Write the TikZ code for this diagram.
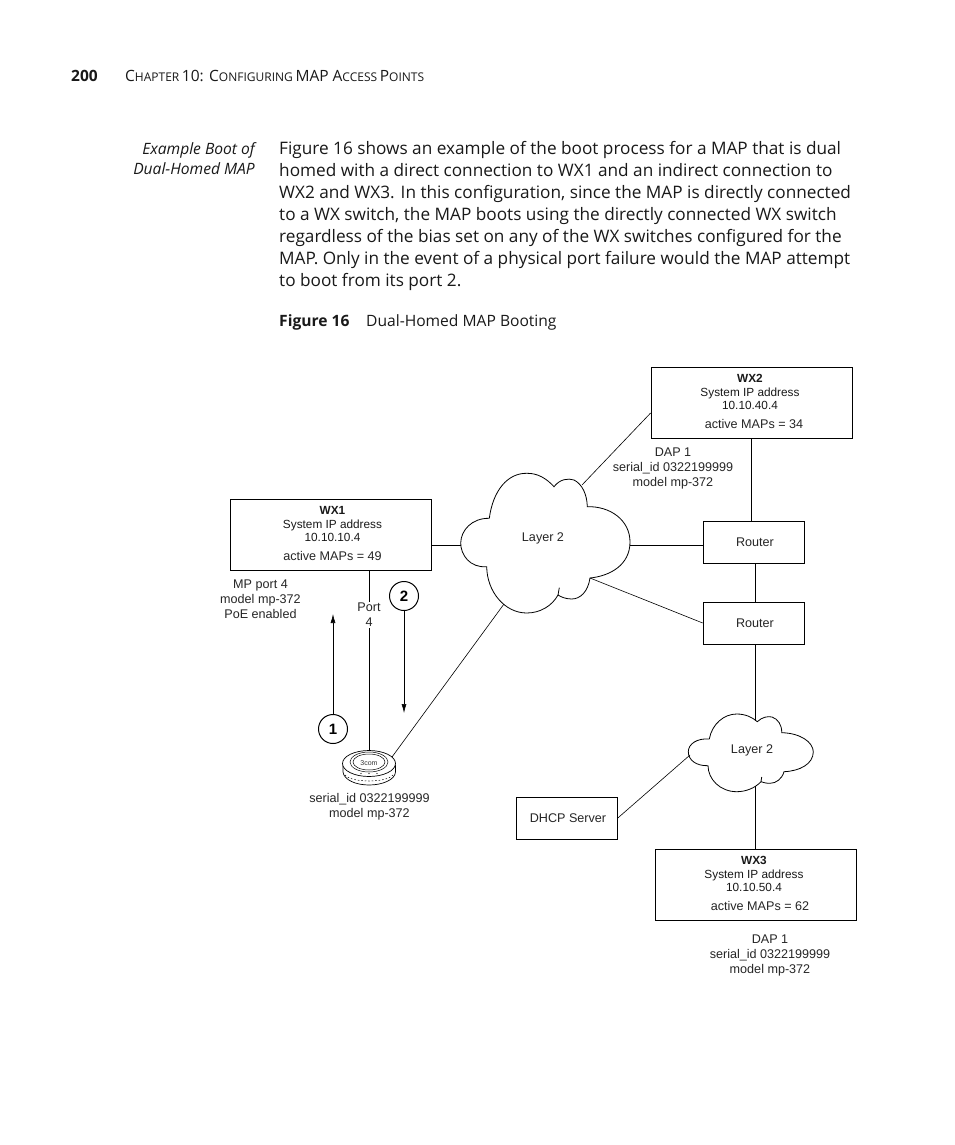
\documentclass[tikz,border=0pt]{standalone}
\usepackage{fontspec}
\usetikzlibrary{arrows.meta}
\setmainfont{Open Sans}
\newfontfamily\figfont{Liberation Sans}
\tikzset{
  devbox/.style={draw,line width=0.8pt,minimum width=201pt,minimum height=71pt,inner sep=0pt},
  smallbox/.style={draw,line width=0.6pt,minimum width=101pt,minimum height=42pt,inner sep=0pt},
  figtext/.style={inner sep=0pt,align=center,text=black!85,font=\figfont\fontsize{12.6}{15}\selectfont},
  boxtext/.style={inner sep=0pt,align=center,text=black!90,font=\figfont\fontsize{11.8}{13.5}\selectfont},
  conn/.style={line width=0.6pt},
  numcircle/.style={circle,draw,line width=1pt,minimum size=29pt,inner sep=0pt,font=\figfont\bfseries\fontsize{15}{15}\selectfont},
  pagetext/.style={inner sep=0pt,anchor=base west,text=black!90}
}
\newcommand{\capsc}[2]{{\fontsize{15.5}{18}\selectfont #1}{\fontsize{12}{18}\selectfont #2}}
\begin{document}
\begin{tikzpicture}[x=1pt,y=1pt,yscale=-1,xscale=1]
        \useasboundingbox (0,0) rectangle (954,1145);
        \fill[white] (0,0) rectangle (954,1145);

        % Page text
        \node (pagenum) [pagetext,font=\bfseries\fontsize{15.5}{18}\selectfont] at (71,82) {200};
        \node (chapter) [pagetext] at (125,82) {\capsc{C}{HAPTER} \capsc{10: C}{ONFIGURING} \capsc{MAP A}{CCESS} \capsc{P}{OINTS}};
        \node (side) [inner sep=0pt,anchor=north east,align=right,text=black!90,font=\itshape\fontsize{15.6}{19.5}\selectfont] at (255,142.5) {Example Boot of\\Dual-Homed MAP};
        \node (body) [inner sep=0pt,anchor=north west,align=left,text=black!90,font=\fontsize{17.2}{22}\selectfont] at (279,141) {Figure 16 shows an example of the boot process for a MAP that is dual\\
homed with a direct connection to WX1 and an indirect connection to\\
WX2 and WX3. In this configuration, since the MAP is directly connected\\
to a WX switch, the MAP boots using the directly connected WX switch\\
regardless of the bias set on any of the WX switches configured for the\\
MAP. Only in the event of a physical port failure would the MAP attempt\\
to boot from its port 2.};
        \node (figlabel) [pagetext,font=\bfseries\fontsize{15.6}{18}\selectfont] at (279,326) {Figure 16};
        \node (figtitle) [pagetext,font=\fontsize{15.6}{18}\selectfont] at (366,326) {Dual-Homed MAP Booting};

        % Boxes
        \node (wxone) [devbox] at (330.5,535) {};
        \node (wxtwo) [devbox] at (751.5,402.5) {};
        \node (wxthree) [devbox] at (755.5,884.5) {};
        \node (routerA) [smallbox] at (753.5,542) {};
        \node (routerB) [smallbox] at (753.5,623) {};
        \node (dhcp) [smallbox] at (567,818) {};

        % Box labels
        \node (routerAtxt) [figtext] at (755,542) {Router};
        \node (routerBtxt) [figtext] at (755,623) {Router};
        \node (dhcptxt) [figtext] at (568,818) {DHCP Server};
        \node (wxonetxt) [boxtext] at (332.5,524) {\textbf{WX1}\\System IP address\\10.10.10.4};
        \node (wxonemaps) [figtext] at (332.5,556) {active MAPs = 49};
        \node (wxtwotxt) [boxtext] at (750,392) {\textbf{WX2}\\System IP address\\10.10.40.4};
        \node (wxtwomaps) [figtext] at (754,424) {active MAPs = 34};
        \node (wxthreetxt) [boxtext] at (754,874) {\textbf{WX3}\\System IP address\\10.10.50.4};
        \node (wxthreemaps) [figtext] at (760,906) {active MAPs = 62};

        % Clouds
        \draw[line width=0.8pt,fill=white] (489.3,518.3) .. controls (493,490) and (508,473) .. (526.7,473.3) .. controls (538,473) and (547,479) .. (554,486.7) .. controls (560,479) and (568,478) .. (574,480) .. controls (582,484) and (587,494) .. (587.3,506.7) .. controls (610,506) and (630,520) .. (630,542) .. controls (630,565) and (610,576) .. (590,578) .. controls (588,592) and (580,599) .. (571.7,599) .. controls (566,599) and (561,597) .. (558,595) -- (559.3,587.7) (558,595) .. controls (552,606) and (540,613) .. (526.7,613) .. controls (505,613) and (487,592) .. (486.7,566.7) .. controls (470,568) and (460.7,555) .. (460.7,543) .. controls (461,530) and (472,518) .. (489.3,518.3);
        \draw[line width=0.8pt,fill=white] (709.3,739) .. controls (712,724) and (724,714) .. (736.7,714) .. controls (745,714) and (752,717) .. (757.3,721.7) .. controls (762,717) and (768,716) .. (772,717) .. controls (778,719) and (782,725) .. (781.7,732.7) .. controls (800,733) and (813.3,742) .. (813.3,752) .. controls (813,764) and (800,771) .. (784,771.7) .. controls (782,779) and (776,783.3) .. (770,783.3) .. controls (766,783.3) and (763,782.5) .. (761,781.7) -- (761.7,777) (761,781.7) .. controls (755,788) and (746,791.7) .. (736.7,791.7) .. controls (720,791.7) and (708,779) .. (708,765.7) .. controls (696,766) and (688.3,760) .. (688.3,751.7) .. controls (688.3,744) and (697,738) .. (709.3,739);
        \node (lanA) [figtext] at (543,538) {Layer 2};
        \node (lanB) [figtext] at (752,750) {Layer 2};

        % Attachment points
        \coordinate (lanAw) at (460.7,545);
        \coordinate (lanAne) at (582,485);
        \coordinate (lanAe) at (630,545);
        \coordinate (lanAse) at (590,578);
        \coordinate (lanAsw) at (504,604);
        \coordinate (lanBn) at (755,721);
        \coordinate (lanBs) at (755,786);
        \coordinate (lanBw) at (690,755);
        \coordinate (apN) at (369,751);
        \coordinate (apE) at (392,757);

        % Access point
        \draw[line width=0.7pt,fill=white] (343,765) -- (343,772) .. controls (344,780) and (356,785) .. (369,785) .. controls (382,785) and (395,780) .. (395.5,772) -- (395.5,765);
        \draw[line width=0.7pt,fill=white] (369,763.5) ellipse [x radius=26.5,y radius=13];
        \draw[line width=0.5pt] (369,762) ellipse [x radius=19,y radius=10];
        \draw[line width=0.5pt] (369,762) ellipse [x radius=16,y radius=8];
        \draw[line width=0.5pt,dash pattern=on 1.5pt off 2pt] (345,775) .. controls (352,783) and (386,783) .. (393,775);
        \foreach \tickx in {361,369,377}
          \fill (\tickx,773.5) circle [radius=0.7];
        \node (aplogo) [inner sep=0pt,text=black!80,font=\figfont\fontsize{7}{7}\selectfont] at (369,763.5) {3com};

        % Connectors
        \draw[conn] (wxone.east |- lanAw) -- (lanAw);
        \draw[conn] (lanAne) -- (wxtwo.west |- 0,413);
        \draw[conn] (wxtwo.south) -- (wxtwo.south |- routerA.north);
        \draw[conn] (lanAe) -- (routerA.west |- lanAe);
        \draw[conn] (lanAse) -- (routerB.west);
        \draw[conn] (lanBn |- routerA.south) -- (lanBn |- routerB.north);
        \draw[conn] (lanBn |- routerB.south) -- (lanBn);
        \draw[conn] (lanBs) -- (lanBs |- wxthree.north);
        \draw[conn] (dhcp.east) -- (lanBw);
        \draw[conn] (apE) -- (lanAsw);
        \draw[conn] (apN) -- (apN |- wxone.south);

        % Labels round the connectors
        \node (portlbl) [figtext,fill=white,inner ysep=1pt] at (369,615) {Port\\4};
        \node (stepone) [numcircle] at (333,729) {1};
        \node (steptwo) [numcircle] at (404,596) {2};
        \draw[conn,-{Latex[length=9pt,width=5pt]}] (stepone.north) -- (333,614);
        \draw[conn,-{Latex[length=9pt,width=5pt]}] (steptwo.south) -- (404,713);
        \node (wxoneport) [figtext] at (260.5,599) {MP port 4\\model mp-372\\PoE enabled};
        \node (wxtwodap) [figtext] at (673,468) {DAP 1\\serial\_id 0322199999\\model mp-372};
        \node (wxthreedap) [figtext] at (770,955) {DAP 1\\serial\_id 0322199999\\model mp-372};
        \node (aplbl) [figtext] at (369.5,807) {serial\_id 0322199999\\model mp-372};
\end{tikzpicture}
\end{document}
